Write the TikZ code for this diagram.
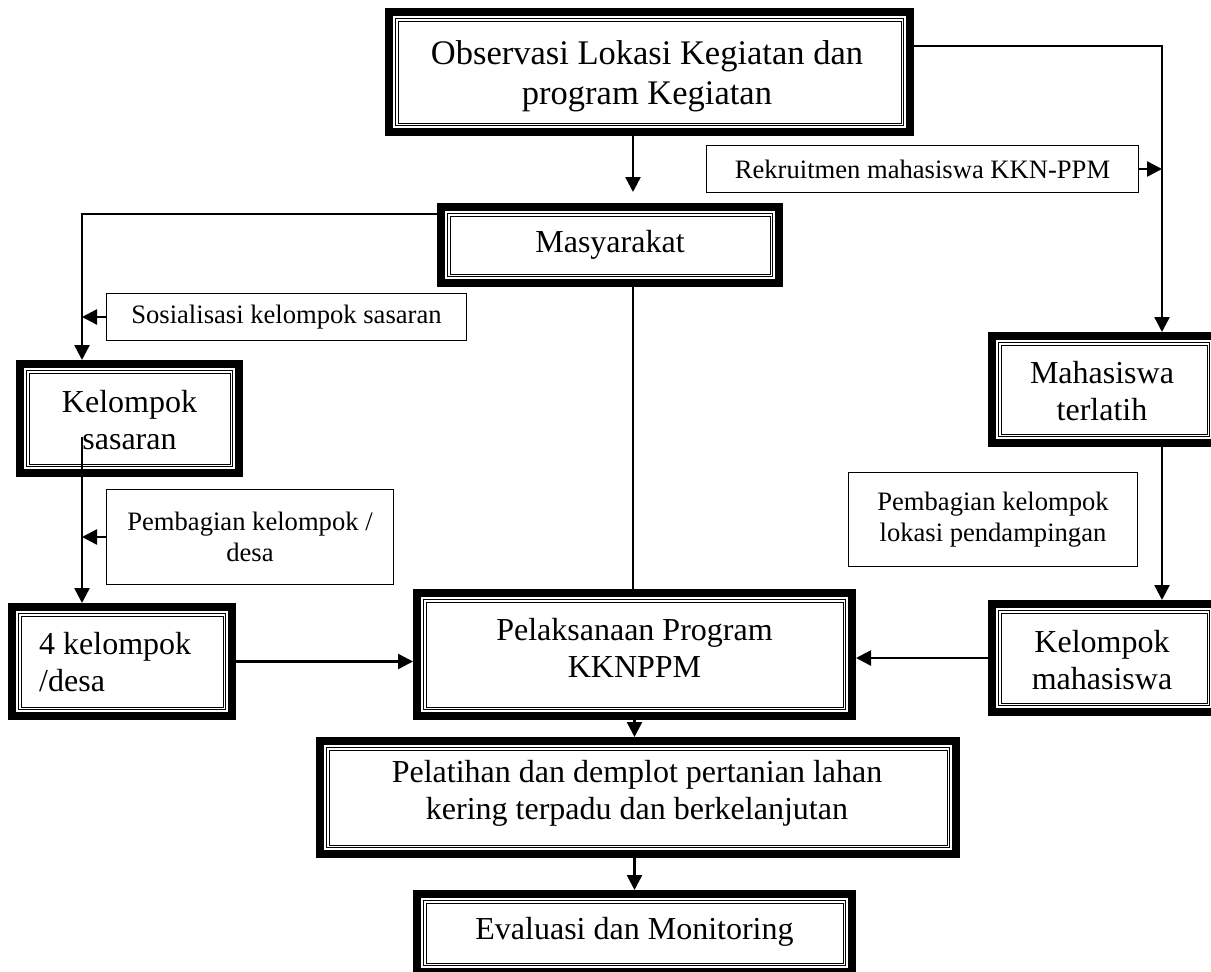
\documentclass[tikz,border=0pt]{standalone}
\usepackage{fontspec}
\setmainfont{Liberation Serif}
\usetikzlibrary{calc}
\usetikzlibrary{arrows.meta}
\newcommand{\bigtxt}{\fontsize{32}{37}\selectfont}
\newcommand{\toptxt}{\fontsize{34.5}{40}\selectfont}
\newcommand{\smalltxt}{\fontsize{26.6}{31}\selectfont}
\newcommand{\innerframe}[1]{\draw[line width=1.3pt] ($(#1.north west)+(10.6,10.6)$) rectangle ($(#1.south east)+(-10.6,-10.6)$); \draw[line width=0.8pt] ($(#1.north west)+(13,13)$) rectangle ($(#1.south east)+(-13,-13)$);}

\begin{document}
\begin{tikzpicture}[x=1pt,y=-1pt,
  tribox/.style={draw, line width=8.3pt, outer sep=4.15pt, inner sep=0pt},
  boxtxt/.style={align=center, font=\bigtxt, inner sep=0pt},
  notebox/.style={draw, line width=1.3pt, inner sep=0pt, align=center, font=\smalltxt},
  link/.style={line width=2.5pt},
  arr/.style={link, -{Triangle[length=15pt,width=15pt]}}]
  \useasboundingbox (0,0) rectangle (1211,972);
  \clip (0,0) rectangle (1211,972);

    %main boxes
    \node[tribox, minimum width=520.7pt, minimum height=119.7pt] (obs) at (649.5,72) {};
    \node[tribox, minimum width=337.7pt, minimum height=75.7pt] (mas) at (610,245) {};
    \node[tribox, minimum width=218.7pt, minimum height=108.7pt] (ks) at (129.5,418.5) {};
    \node[tribox, minimum width=223.7pt, minimum height=106.7pt] (mt) at (1104,389.5) {};
    \node[tribox, minimum width=223.7pt, minimum height=107.7pt] (km) at (1104,658) {};
    \node[tribox, minimum width=219.7pt, minimum height=108.7pt] (kd) at (122,661.5) {};
    \node[tribox, minimum width=434.7pt, minimum height=122.7pt] (pp) at (634.5,654.5) {};
    \node[tribox, minimum width=635.7pt, minimum height=112.7pt] (plt) at (638,797.5) {};
    \node[tribox, minimum width=434.7pt, minimum height=77.7pt] (ev) at (634.5,933) {};
    \foreach \b in {obs,mas,ks,mt,km,kd,pp,plt,ev} {\innerframe{\b}}

    \node[boxtxt, font=\toptxt] (obstxt) at (647,76) {Observasi Lokasi Kegiatan dan\\program Kegiatan};
    \node[boxtxt] (mastxt) at (610,245) {Masyarakat};
    \node[boxtxt] (kstxt) at (129.5,420) {Kelompok\\sasaran};
    \node[boxtxt] (mttxt) at (1102,391) {Mahasiswa\\terlatih};
    \node[boxtxt] (kmtxt) at (1102,660) {Kelompok\\mahasiswa};
    \node[boxtxt, align=left, anchor=west] (kdtxt) at (39,662.5) {4 kelompok\\/desa};
    \node[boxtxt] (pptxt) at (634.5,648) {Pelaksanaan Program\\KKNPPM};
    \node[boxtxt] (plttxt) at (637,793) {Pelatihan dan demplot pertanian lahan\\kering terpadu dan berkelanjutan};
    \node[boxtxt] (evtxt) at (634.5,932) {Evaluasi dan Monitoring};

    %notes
    \node[notebox, minimum width=431.7pt, minimum height=46.7pt] (rk) at (922.5,169) {Rekruitmen mahasiswa KKN-PPM};
    \node[notebox, minimum width=359.7pt, minimum height=46.7pt] (sos) at (286.5,317) {Sosialisasi kelompok sasaran};
    \node[notebox, minimum width=286.7pt, minimum height=94.7pt] (pkd) at (250,537) {Pembagian kelompok /\\desa};
    \node[notebox, minimum width=288.7pt, minimum height=93.7pt] (pkl) at (993,519.5) {Pembagian kelompok\\lokasi pendampingan};

    %connectors
    \draw[arr] (obs.south -| 633,0) -- (633,192);
    \draw[arr] (obs.east |- 0,46) -| (mt.north -| 1162,0);
    \draw[arr] (rk.east) -- (rk.east -| 1162,0);
    \draw[arr] (mas.west |- 0,214) -| (ks.north -| 82,0);
    \draw[arr] (sos.west) -- (sos.west -| 82,0);
    \draw[link] (mas.south -| 633,0) -- (pp.north -| 633,0);
    \draw[arr] (ks.center -| 82,0) ++(0,18) -- (kd.north -| 82,0);
    \draw[arr] (pkd.west) -- (pkd.west -| 82,0);
    \draw[arr] (kd.east) -- (kd.east -| pp.west);
    \draw[arr] (mt.south -| 1162,0) -- (km.north -| 1162,0);
    \draw[arr] (km.west) -- (km.west -| pp.east);
    \draw[arr] (pp.south) -- (plt.north -| pp.south);
    \draw[arr] (plt.south -| ev.north) -- (ev.north);

\end{tikzpicture}
\end{document}
